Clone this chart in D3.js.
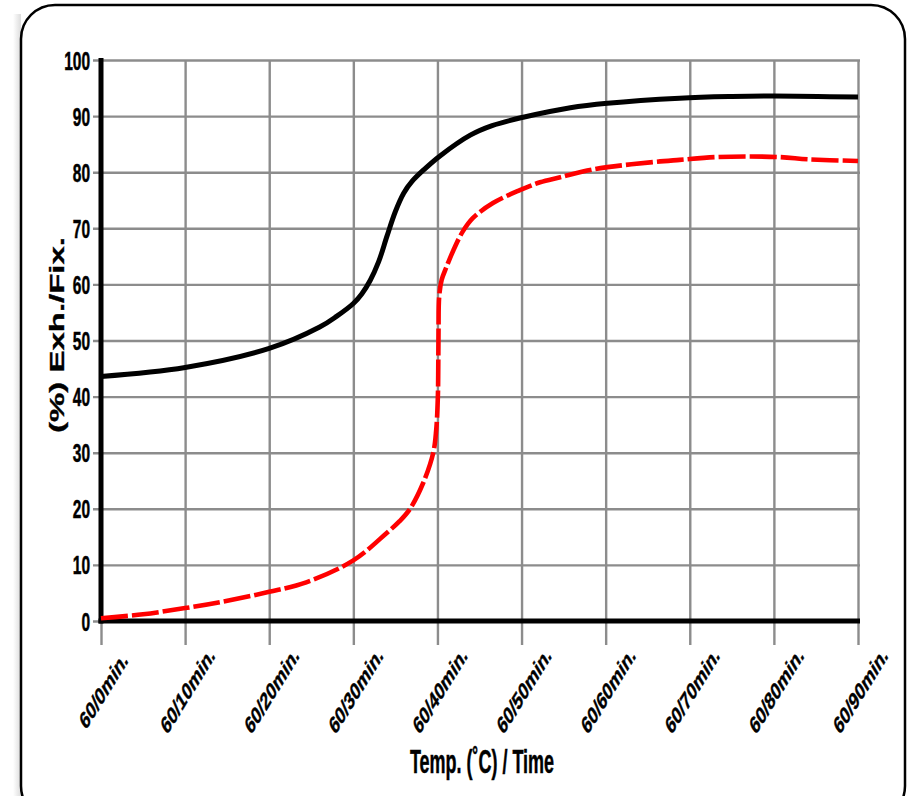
<!DOCTYPE html>
<html>
<head>
<meta charset="utf-8">
<script src="https://cdn.jsdelivr.net/npm/d3@7"></script>
<style>
  html, body { margin: 0; padding: 0; background: #fff; }
  svg { display: block; }
  text { font-family: "Liberation Sans", Arial, Helvetica, sans-serif; font-weight: bold; fill: #000;
         stroke: #000; stroke-width: 0.5px; }
</style>
</head>
<body>
<svg id="chart" width="908" height="796"></svg>
<script>
// ---- data ----
const xTickValues = [0, 10, 20, 30, 40, 50, 60, 70, 80, 90];
const xTickLabels = ["60/0min.", "60/10min.", "60/20min.", "60/30min.", "60/40min.",
                     "60/50min.", "60/60min.", "60/70min.", "60/80min.", "60/90min."];
const yTickValues = [0, 10, 20, 30, 40, 50, 60, 70, 80, 90, 100];

// exhaustion curve (solid black): time in minutes, percent
const exhTime  = [0, 10, 20, 26, 28, 30, 31, 32, 33, 34, 35, 36, 37, 38.5,
                  40.3, 43.9, 46.5, 50.2, 55.8, 60.2, 68.8, 75, 80, 90];
const exhValue = [43.6, 45.2, 48.6, 52.4, 54.3, 56.6, 58.3, 60.7, 64.0, 68.6, 73.0, 76.3, 78.4, 80.6,
                  82.9, 86.6, 88.3, 89.8, 91.5, 92.3, 93.2, 93.5, 93.6, 93.4];

// fixation curve (dashed red)
const fixTime  = [0, 5, 10, 14.3, 20, 24.4, 30, 33.9, 35.5, 36.7, 38.3, 39.5, 39.85, 40.05, 40.1, 40.13,
                  40.2, 40.5, 41.1, 41.9, 43, 44.2, 46.6, 49.8, 52.2, 54.6, 57.8, 60.2, 65.6, 68.8,
                  73.2, 80.7, 84, 90];
const fixValue = [0.5, 1.2, 2.3, 3.4, 5.2, 6.9, 10.8, 15.6, 17.8, 19.9, 24.6, 30, 34, 40, 46, 52,
                  57.7, 60.8, 63.2, 66.1, 69.4, 71.8, 74.5, 76.8, 78.2, 79.1, 80.3, 80.9, 81.8, 82.2,
                  82.7, 82.7, 82.3, 82.0];

// ---- layout ----
const W = 908, H = 796;
const SX = 0.62;                       // horizontal squeeze of the lettering
const plot = { left: 101, right: 858, top: 60, bottom: 621 };

const svg = d3.select("#chart");
const x = d3.scaleLinear().domain([0, 90]).range([plot.left, plot.right]);
const y = d3.scaleLinear().domain([0, 100]).range([plot.bottom, plot.top]);

// frame with soft left shade
const defs = svg.append("defs");
const shade = defs.append("linearGradient").attr("id", "shadeL").attr("x1", 0).attr("x2", 1);
shade.append("stop").attr("offset", 0).attr("stop-color", "#fff");
shade.append("stop").attr("offset", 1).attr("stop-color", "#dcdcdc");
svg.append("rect").attr("x", 13).attr("y", 14).attr("width", 8).attr("height", H)
   .attr("fill", "url(#shadeL)");
svg.append("rect").attr("x", 21).attr("y", 5).attr("width", 884).attr("height", 815)
   .attr("rx", 34).attr("ry", 34)
   .attr("fill", "#fff").attr("stroke", "#000").attr("stroke-width", 2.5);

// horizontal grid + y labels
const gridColor = "#8c8c8c";
const yAxis = svg.append("g").attr("transform", `translate(${plot.right + 2},0)`)
  .call(d3.axisLeft(y).tickValues(yTickValues).tickSize(plot.right + 2 - (plot.left - 8)).tickPadding(0));
yAxis.select(".domain").remove();
yAxis.selectAll(".tick line").attr("stroke", gridColor).attr("stroke-width", 2.4);
yAxis.selectAll(".tick text")
  .attr("x", 0).attr("dy", "0.36em")
  .attr("transform", `translate(${-(plot.right + 2 - 90)},0) scale(${SX},1)`)
  .attr("text-anchor", "end")
  .style("font-size", "25px").attr("font-family", null).attr("fill", null);

// vertical grid + x labels
const xAxis = svg.append("g").attr("transform", `translate(0,${plot.top})`)
  .call(d3.axisBottom(x).tickValues(xTickValues)
          .tickFormat((d, i) => xTickLabels[i])
          .tickSize(645 - plot.top).tickPadding(0));
xAxis.select(".domain").remove();
xAxis.selectAll(".tick line").attr("stroke", gridColor).attr("stroke-width", 2.4);
xAxis.selectAll(".tick text")
  .attr("y", 0).attr("dy", "0.35em")
  .attr("transform", `translate(2,${690 - plot.top}) scale(${SX},1) rotate(-45)`)
  .attr("text-anchor", "middle")
  .style("font-size", "24.5px").attr("font-family", null).attr("fill", null);

// axis lines
svg.append("line").attr("x1", x(0)).attr("x2", x(0)).attr("y1", y(100) - 2).attr("y2", y(0) + 2.5)
   .attr("stroke", "#000").attr("stroke-width", 5);
svg.append("line").attr("x1", x(0) - 2.5).attr("x2", x(90) + 2).attr("y1", y(0)).attr("y2", y(0))
   .attr("stroke", "#000").attr("stroke-width", 5);

// curves
const line = d3.line().x(d => x(d[0])).y(d => y(d[1])).curve(d3.curveCatmullRom.alpha(0.5));
svg.append("path").datum(exhTime.map((t, i) => [t, exhValue[i]]))
   .attr("d", line)
   .attr("fill", "none").attr("stroke", "#000").attr("stroke-width", 5);
svg.append("path").datum(fixTime.map((t, i) => [t, fixValue[i]]))
   .attr("d", line)
   .attr("fill", "none").attr("stroke", "#ff0000").attr("stroke-width", 4.6)
   .attr("stroke-dasharray", "27,4");

// axis titles
svg.append("text")
  .attr("transform", `translate(482,773) scale(0.545,1)`)
  .attr("text-anchor", "middle").style("font-size", "33px")
  .text("Temp. (˚C) / Time");
svg.append("text")
  .attr("transform", `translate(57,335) scale(${SX},1) rotate(-90)`)
  .attr("text-anchor", "middle").attr("dy", "0.35em").style("font-size", "33px")
  .text("(%) Exh./Fix.");
</script>
</body>
</html>
